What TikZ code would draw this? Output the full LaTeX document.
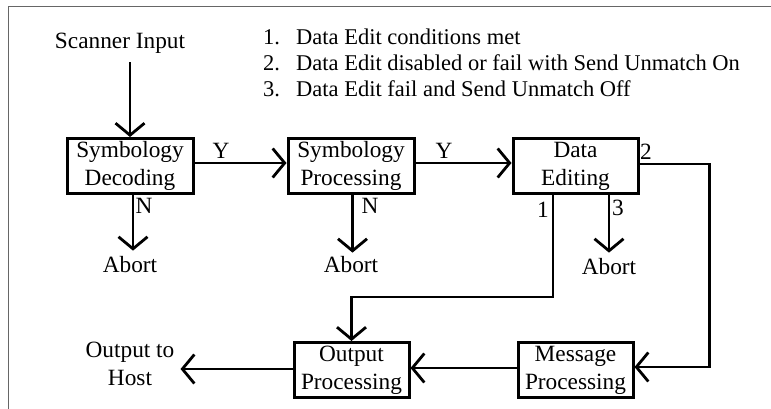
\documentclass[tikz,border=0pt]{standalone}
\usepackage{fontspec}
\setmainfont{Liberation Serif}
\usetikzlibrary{arrows.meta}
\begin{document}
\begin{tikzpicture}[x=1pt,y=-1pt,
  pbox/.style={draw, line width=3pt, inner sep=0pt, minimum width=#1, minimum height=55pt,
    align=center, font=\fontsize{23.3}{28}\selectfont},
  lbl/.style={inner sep=0pt, font=\fontsize{23.3}{28}\selectfont},
  leg/.style={inner sep=0pt, font=\fontsize{22.5}{27}\selectfont},
  arr/.style={line width=2.8pt, -{Straight Barb[length=12pt,width=29pt]}}]
\useasboundingbox (0,0) rectangle (771,409);
% frame
\draw[black!60, line width=1pt] (771,7) -- (8,7) -- (8,409);

% boxes
\node[pbox=126] (sd) at (130,166) {Symbology\\Decoding};
\node[pbox=126] (sp) at (351,166) {Symbology\\Processing};
\node[pbox=125] (de) at (575.5,166) {Data\\Editing};
\node[pbox=115] (op) at (351.5,370) {Output\\Processing};
\node[pbox=115] (mp) at (575.5,370) {Message\\Processing};

% free texts
\node[lbl, anchor=base] (scan) at (120,49) {Scanner Input};
\node[lbl, anchor=base, inner ysep=5pt] (ab1) at (130,272) {Abort};
\node[lbl, anchor=base, inner ysep=3pt] (ab2) at (351,272) {Abort};
\node[lbl, anchor=base, inner ysep=5pt] (ab3) at (609,274) {Abort};
\node[lbl, align=center, anchor=north, inner xsep=6pt] (host) at (130,342) {Output to\\Host};

% legend
\node[leg, anchor=base west] (n1) at (263,45) {1.};
\node[leg, anchor=base west] (t1) at (296,45) {Data Edit conditions met};
\node[leg, anchor=base west] (n2) at (263,70.5) {2.};
\node[leg, anchor=base west] (t2) at (296,70.5) {Data Edit disabled or fail with Send Unmatch On};
\node[leg, anchor=base west] (n3) at (263,96.5) {3.};
\node[leg, anchor=base west] (t3) at (296,96.5) {Data Edit fail and Send Unmatch Off};

% connector labels
\node[lbl, anchor=base] (y1) at (221,158) {Y};
\node[lbl, anchor=base] (y2) at (444,158) {Y};
\node[lbl, anchor=base] (nn1) at (144,213) {N};
\node[lbl, anchor=base] (nn2) at (370,213) {N};
\node[lbl, anchor=base] (l1) at (543,217) {1};
\node[lbl, anchor=base] (l3) at (618,215) {3};
\node[lbl, anchor=base] (l2) at (646,160) {2};

% connectors
\draw[arr] ([yshift=-8pt]scan.south -| sd.north) -- (sd.north);
\draw[arr] ([yshift=3pt]sd.east) -- ([yshift=3pt]sp.west);
\draw[arr] ([yshift=3pt]sp.east) -- ([yshift=3pt]de.west);
\draw[arr] ([xshift=3pt]sd.south) -- ([xshift=3pt]ab1.north);
\draw[arr] ([xshift=1.5pt]sp.south) -- ([xshift=1.5pt]ab2.north);
\draw[arr] ([xshift=33.5pt]de.south) -- (ab3.north);
\draw[arr] ([xshift=-22.5pt]de.south) -- ++(0,102) -| (op.north);
\draw[arr] ([yshift=2pt]de.east) -- ++(70,0) |- ([yshift=3pt]mp.east);
\draw[arr] ([yshift=2pt]mp.west) -- ([yshift=2pt]op.east);
\draw[arr] ([yshift=1pt]op.west) -- ([yshift=1pt]op.west -| host.east);
\end{tikzpicture}
\end{document}
